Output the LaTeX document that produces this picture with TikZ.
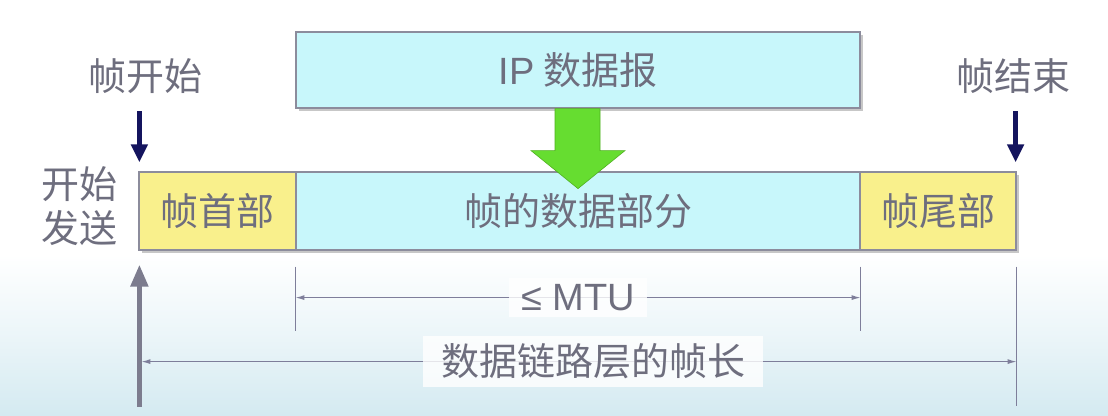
\documentclass[tikz,border=0pt]{standalone}
\usepackage{fontspec}
\setmainfont{Noto Sans CJK SC}
\newfontfamily\latf{Liberation Sans}
\usetikzlibrary{arrows.meta,shadows}
\definecolor{cy}{HTML}{C8F7FB}
\definecolor{ye}{HTML}{F9F08C}
\definecolor{bd}{HTML}{8C8C9C}
\definecolor{tx}{HTML}{6E6E7E}
\definecolor{nv}{HTML}{14145E}
\definecolor{gr}{HTML}{66DD30}
\definecolor{grd}{HTML}{4FB020}
\definecolor{dimc}{HTML}{7E7E9A}
\definecolor{gar}{HTML}{7C7C8E}
\definecolor{bgb}{HTML}{D4EAF1}
\begin{document}
\begin{tikzpicture}[x=1pt,y=-1pt,
  txt/.style={text=tx, font=\fontsize{38}{44}\selectfont, inner sep=0pt},
  box/.style={txt, draw=bd, line width=1.2pt, minimum height=78pt,
    drop shadow={shadow xshift=2.5pt, shadow yshift=-2.5pt, fill=black, opacity=0.22}},
  navarrow/.style={draw=nv, line width=4.5pt, -{Triangle[length=18pt,width=16pt]}},
  grayarrow/.style={draw=gar, line width=5pt, -{Triangle[length=22pt,width=17pt]}},
  dimline/.style={draw=dimc, line width=1.1pt},
  dimarrow/.style={dimline, {Latex[length=9pt,width=5pt]}-{Latex[length=9pt,width=5pt]}},
  dimlabel/.style={txt, fill=white, fill opacity=0.8, text opacity=1, inner xsep=12pt, inner ysep=6pt}
]
\useasboundingbox (0,0) rectangle (1108,415);
\fill[white] (0,0) rectangle (1108,255);
\shade[top color=white, bottom color=bgb, middle color=bgb!45] (0,254) rectangle (1108,415);

% IP datagram
\node[box, fill=cy, minimum width=564pt, minimum height=76pt] (ip) at (578,70) {{\latf IP} 数据报};

% frame
\node[box, fill=ye, minimum width=157pt] (hdr) at (217.5,211) {帧首部};
\node[box, fill=cy, minimum width=564pt] (data) at (578,211) {帧的数据部分};
\node[box, fill=ye, minimum width=156pt] (trl) at (938,211) {帧尾部};

% green arrow
\coordinate (g) at (ip.south);
\filldraw[fill=gr, draw=grd, line width=0.6pt]
  ([xshift=-23pt]g) -- ([xshift=22pt]g) -- ([xshift=22pt,yshift=-42pt]g)
  -- ([xshift=47pt,yshift=-42pt]g) -- ([yshift=-80pt]g)
  -- ([xshift=-47pt,yshift=-42pt]g) -- ([xshift=-23pt,yshift=-42pt]g) -- cycle;

% labels
\node[txt] (fs) at (145,76) {帧开始};
\node[txt] (fe) at (1013,76) {帧结束};
\node[txt, align=center] (send) at (79,206) {开始\\发送};

% start / end arrows
\draw[navarrow] ([xshift=1pt,yshift=60pt]hdr.north west) -- ([xshift=1pt,yshift=9pt]hdr.north west);
\draw[navarrow] ([xshift=-1pt,yshift=60pt]trl.north east) -- ([xshift=-1pt,yshift=9pt]trl.north east);

% send arrow
\draw[grayarrow] ([xshift=1pt,yshift=-156pt]hdr.south west) -- ([xshift=1pt,yshift=-14pt]hdr.south west);

% ticks
\draw[dimline] ([yshift=-16pt]data.south west) -- ([yshift=-80pt]data.south west);
\draw[dimline] ([yshift=-16pt]data.south east) -- ([yshift=-80pt]data.south east);
\draw[dimline] ([yshift=-16pt]trl.south east) -- ([yshift=-155pt]trl.south east);

% MTU
\draw[dimarrow] ([yshift=-47pt]data.south west) -- ([yshift=-47pt]data.south east)
  node[dimlabel, midway, font=\latf\fontsize{38}{44}\selectfont] (mtu) {≤ MTU};
% frame length
\draw[dimarrow] ([xshift=3pt,yshift=-111pt]hdr.south west) -- ([yshift=-111pt]trl.south east)
  node[dimlabel, pos=0.516, inner xsep=18pt, inner ysep=8pt] (len) {数据链路层的帧长};
\end{tikzpicture}
\end{document}
